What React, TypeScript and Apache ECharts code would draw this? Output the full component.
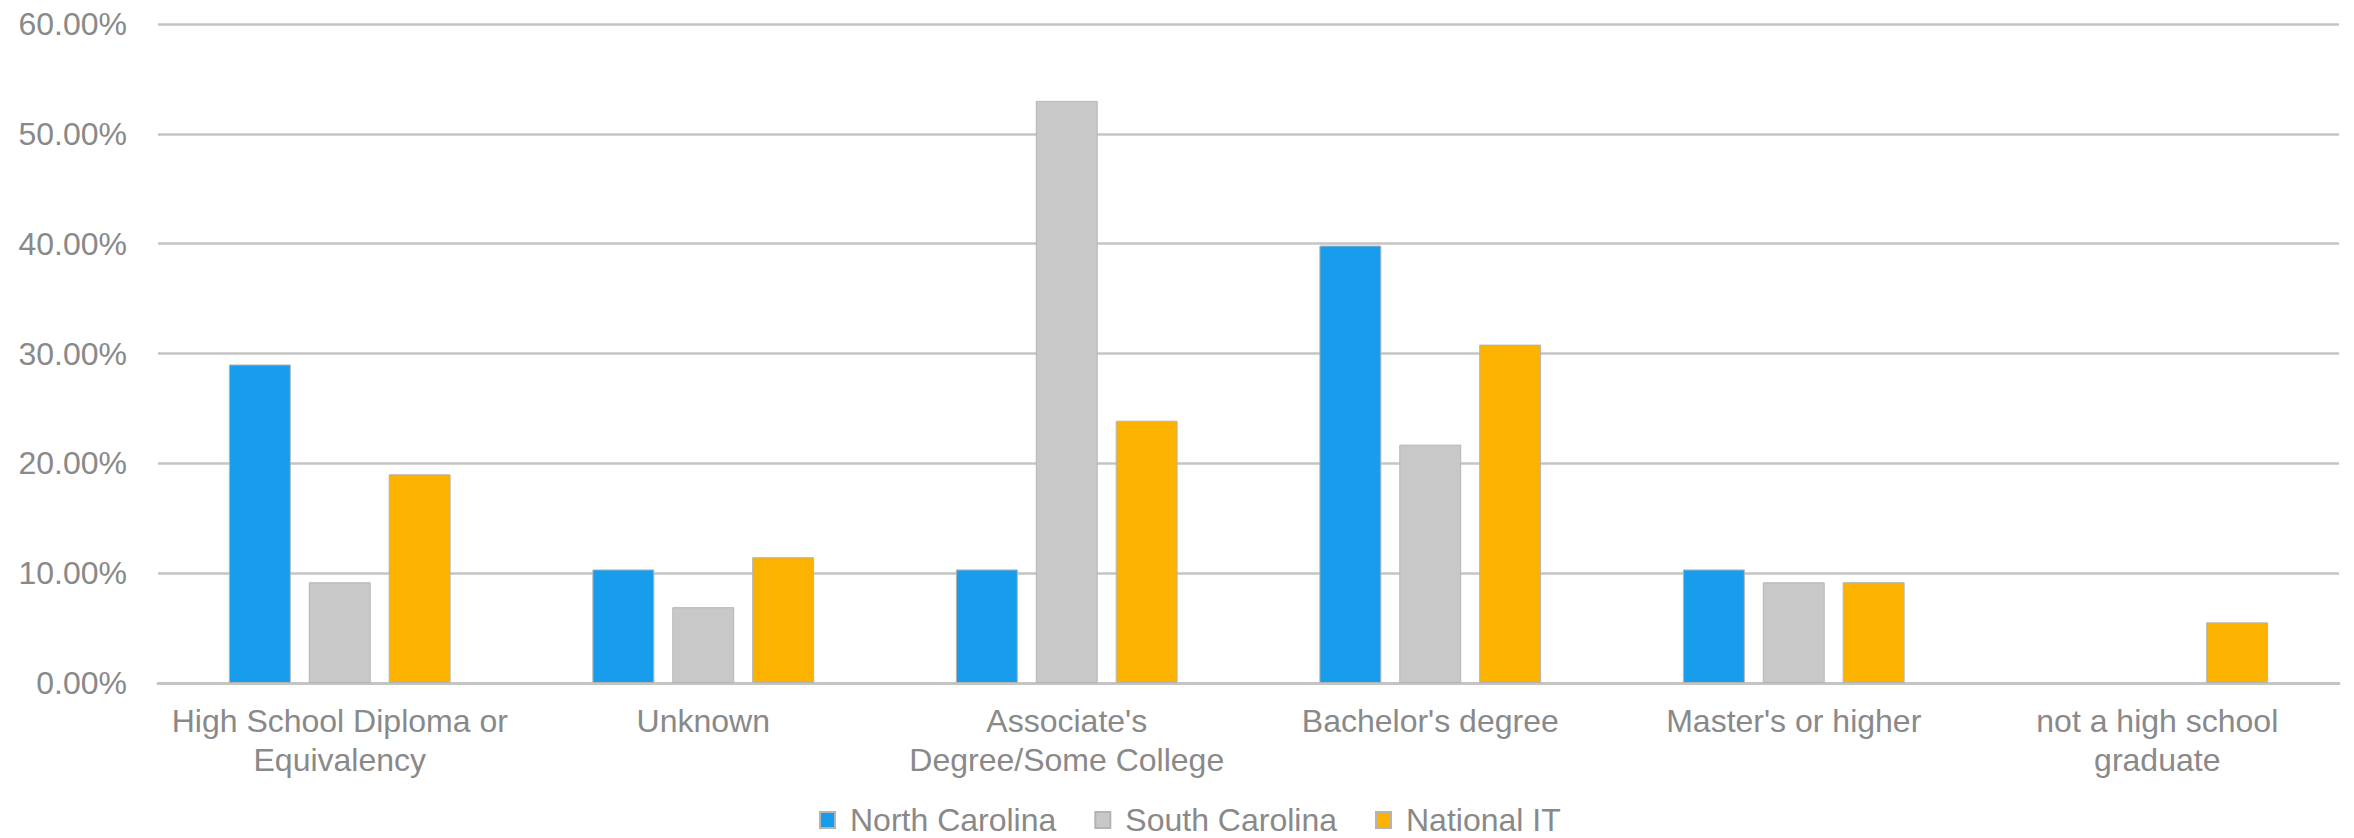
import React, { useEffect, useRef } from "react";
import * as echarts from "echarts";

const categories = [
  "High School Diploma or\nEquivalency",
  "Unknown",
  "Associate's\nDegree/Some College",
  "Bachelor's degree",
  "Master's or higher",
  "not a high school\ngraduate",
];
const northCarolina = [0.29, 0.1034, 0.1034, 0.3983, 0.1034, 0];
const southCarolina = [0.0917, 0.069, 0.53, 0.217, 0.0917, 0];
const nationalIT = [0.19, 0.1145, 0.2388, 0.3081, 0.0918, 0.0552];
const seriesNames = ["North Carolina", "South Carolina", "National IT"];
const colors = ["#179DEB", "#C8C8C8", "#FBB200"];
const yTicks = { min: 0, max: 0.6, interval: 0.1 };

export default function App() {
  const ref = useRef<HTMLDivElement>(null);
  useEffect(() => {
    document.body.style.margin = "0";
    document.body.style.overflow = "hidden";
    const chart = echarts.init(ref.current!, null, { renderer: "svg" });
    const font = "'Liberation Sans', Arial, sans-serif";
    const textColor = "#898989";
    const data = [northCarolina, southCarolina, nationalIT];
    chart.setOption({
      animation: false,
      backgroundColor: "#ffffff",
      grid: { left: 158, right: 15, top: 24, bottom: 155, containLabel: false },
      legend: {
        data: seriesNames,
        bottom: -3,
        left: 814,
        icon: "rect",
        itemWidth: 15,
        itemHeight: 16,
        itemGap: 38,
        textStyle: {
          fontFamily: font,
          fontSize: 32,
          color: textColor,
          padding: [0, 0, 0, 10],
        },
      },
      xAxis: {
        type: "category",
        data: categories,
        axisTick: { show: false },
        axisLine: { show: true, lineStyle: { color: "#C4C4C4", width: 3 } },
        axisLabel: {
          fontFamily: font,
          fontSize: 32,
          color: textColor,
          lineHeight: 39,
          margin: 18,
          interval: 0,
        },
      },
      yAxis: {
        type: "value",
        min: yTicks.min,
        max: yTicks.max,
        interval: yTicks.interval,
        axisLine: { show: false },
        axisTick: { show: false },
        splitLine: { lineStyle: { color: "#C4C4C4", width: 2.5 } },
        axisLabel: {
          fontFamily: font,
          fontSize: 32,
          color: textColor,
          margin: 31,
          formatter: (v: number) => (v * 100).toFixed(2) + "%",
        },
      },
      series: seriesNames.map((name, i) => ({
        name,
        type: "bar",
        data: data[i].map((v) => (v === 0 ? null : v)),
        barGap: "29%",
        barCategoryGap: "39%",
        itemStyle: {
          color: colors[i],
          borderColor: "#B4B4B4",
          borderWidth: 1,
        },
      })),
    });
    return () => chart.dispose();
  }, []);
  return <div ref={ref} style={{ width: 2354, height: 838 }} />;
}
